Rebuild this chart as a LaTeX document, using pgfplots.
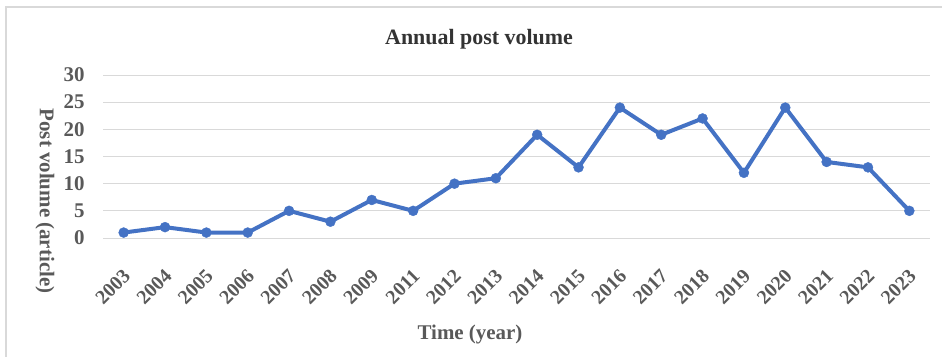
\documentclass[border=0pt]{standalone}
\usepackage{pgfplots}
\pgfplotsset{compat=1.18}
\usepackage{fontspec}
\setmainfont{Liberation Serif}
\definecolor{lineblue}{HTML}{4472C4}
\definecolor{txtgray}{HTML}{595959}
\definecolor{gridgray}{HTML}{D9D9D9}
\begin{document}
\begin{tikzpicture}[x=1bp,y=1bp]
\path[use as bounding box] (0,0) rectangle (942,356);
\draw[gridgray, line width=1.2bp] (6,-5) -- (6,349) -- (950,349);
\begin{axis}[
  at={(103bp,118bp)}, anchor=south west,
  width=827bp, height=163bp, scale only axis,
  xmin=-0.5, xmax=19.5, ymin=0, ymax=30,
  ytick={0,5,...,30},
  xtick={0,...,19},
  xticklabels={2003,2004,2005,2006,2007,2008,2009,2011,2012,2013,2014,2015,2016,2017,2018,2019,2020,2021,2022,2023},
  axis line style={draw=none},
  major tick length=0pt,
  ymajorgrids, grid style={gridgray, line width=1bp},
  /pgf/number format/assume math mode=true,
  yticklabel style={font=\fontsize{21}{21}\selectfont\bfseries, text=txtgray, xshift=-15bp},
  xticklabel style={font=\fontsize{20}{20}\selectfont\bfseries, text=txtgray, rotate=45, anchor=east, yshift=-27bp, xshift=-19bp},
]
\addplot[lineblue, line width=4bp, mark=*, mark size=5bp, mark options={fill=lineblue, draw=lineblue, line width=0.4bp}]
coordinates {(0,1)(1,2)(2,1)(3,1)(4,5)(5,3)(6,7)(7,5)(8,10)(9,11)(10,19)(11,13)(12,24)(13,19)(14,22)(15,12)(16,24)(17,14)(18,13)(19,5)};
\end{axis}
\node[font=\fontsize{22}{22}\selectfont\bfseries, text=black!80] at (479,317) {Annual post volume};
\node[font=\fontsize{21}{21}\selectfont\bfseries, text=txtgray] at (470,22) {Time (year)};
\node[font=\fontsize{21}{21}\selectfont\bfseries, text=txtgray, rotate=-90] at (45,155) {Post volume (article)};
\end{tikzpicture}
\end{document}
